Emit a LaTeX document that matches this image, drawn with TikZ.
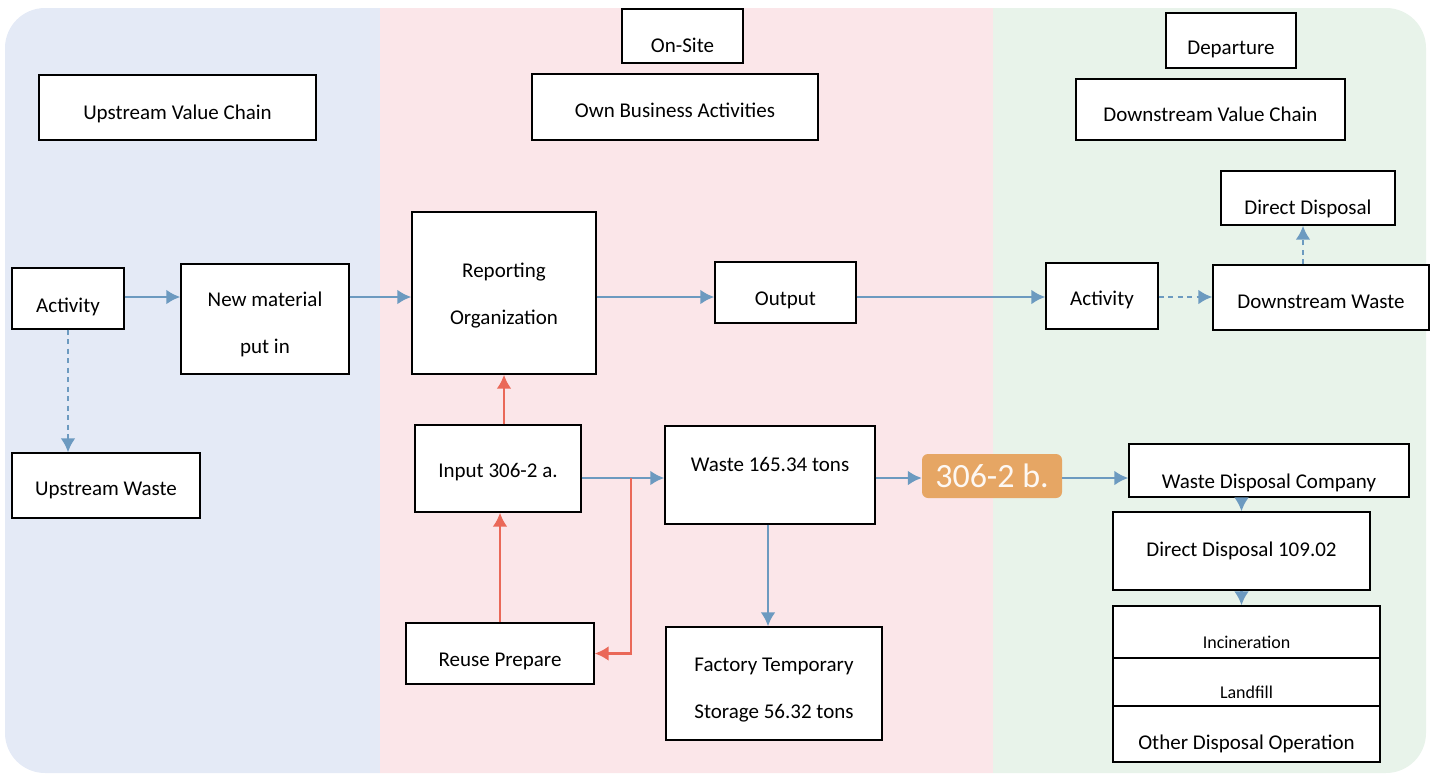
\documentclass[tikz,border=0pt]{standalone}
\usepackage{fontspec}
\setmainfont{Carlito}
\usepackage{tikz}
\usetikzlibrary{arrows.meta}
\usepackage{xcolor}
\definecolor{upblue}{RGB}{228,234,246}
\definecolor{sitepink}{RGB}{251,230,233}
\definecolor{downgreen}{RGB}{232,243,234}
\definecolor{flowblue}{RGB}{108,154,192}
\definecolor{backred}{RGB}{234,104,88}
\definecolor{tagorange}{RGB}{230,166,100}
\newcommand\shifttxt[2]{\raisebox{#1}[\height][\depth]{#2}}
\newcommand\twolines[2]{\begin{tabular}{@{}c@{}}#1\\[22pt]#2\end{tabular}}
\tikzset{
    box/.style={draw=black, line width=1.4pt, fill=white, inner sep=0pt,
        font=\fontsize{21}{25}\selectfont, align=center},
    smallbox/.style={box, font=\fontsize{18}{22}\selectfont},
    flow/.style={draw=flowblue, line width=2.8pt, -{Latex[length=14pt,width=15pt]}},
    dashflow/.style={flow, dash pattern=on 5pt off 4.5pt},
    back/.style={draw=backred, line width=2.8pt, -{Latex[length=14pt,width=15pt]}},
}
\begin{document}
\begin{tikzpicture}[x=1pt, y=-1pt]
    \useasboundingbox (0,0) rectangle (1438,774);
    \begin{scope}
        \clip[rounded corners=40pt] (5,8) rectangle (1426,773);
        \fill[upblue] (0,0) rectangle (380,774);
        \fill[sitepink] (380,0) rectangle (993,774);
        \fill[downgreen] (993,0) rectangle (1438,774);
    \end{scope}
    % titles
    \node[box, minimum width=121pt, minimum height=54pt] (onsite) at (682.5,36) {\shifttxt{-9pt}{On-Site}};
    \node[box, minimum width=286pt, minimum height=66pt] (own) at (675,107) {\shifttxt{-3pt}{Own Business Activities}};
    \node[box, minimum width=277pt, minimum height=65pt] (upvc) at (177.5,107.5) {\shifttxt{-6pt}{Upstream Value Chain}};
    \node[box, minimum width=130pt, minimum height=55pt] (depart) at (1231,40.5) {\shifttxt{-9pt}{Departure}};
    \node[box, minimum width=269pt, minimum height=61pt] (downvc) at (1210.5,109.5) {\shifttxt{-5pt}{Downstream Value Chain}};
    % upstream
    \node[box, minimum width=112pt, minimum height=61pt] (actL) at (68,298.5) {\shifttxt{-8pt}{Activity}};
    \node[box, minimum width=168pt, minimum height=110pt] (newmat) at (265,319) {\shifttxt{-6pt}{\twolines{New material}{put in}}};
    \node[box, minimum width=188pt, minimum height=65pt] (upwaste) at (106,485.5) {\shifttxt{-5pt}{Upstream Waste}};
    % on-site
    \node[box, minimum width=184pt, minimum height=162pt] (report) at (504,293) {\shifttxt{-3pt}{\twolines{Reporting}{Organization}}};
    \node[box, minimum width=141pt, minimum height=61pt] (output) at (785.5,292.5) {\shifttxt{-8pt}{Output}};
    \node[box, minimum width=166pt, minimum height=87pt] (input) at (498,468.5) {\shifttxt{-4pt}{Input 306-2 a.}};
    \node[box, minimum width=188pt, minimum height=61pt] (reuse) at (500,653.5) {\shifttxt{-8pt}{Reuse Prepare}};
    \node[box, minimum width=210pt, minimum height=98pt] (waste) at (770,475) {\shifttxt{11pt}{Waste 165.34 tons}};
    \node[box, minimum width=216pt, minimum height=113pt] (factory) at (774,683.5) {\shifttxt{-6pt}{\twolines{Factory Temporary}{Storage 56.32 tons}}};
    \node[fill=tagorange, rounded corners=6pt, minimum width=140pt, minimum height=44pt,
        text=white!92!tagorange, font=\fontsize{34}{40}\selectfont] (b306) at (992,476) {306-2 b.};
    % downstream
    \node[box, minimum width=112pt, minimum height=66pt] (actR) at (1102,296) {\shifttxt{-4pt}{Activity}};
    \node[box, minimum width=216pt, minimum height=65pt] (downwaste) at (1321,297.5) {\shifttxt{-4pt}{Downstream Waste}};
    \node[box, minimum width=174pt, minimum height=54pt] (dirdisp) at (1308,198) {\shifttxt{-11pt}{Direct Disposal}};
    \node[box, minimum width=280pt, minimum height=53pt] (wdc) at (1269,470.5) {\shifttxt{-12pt}{Waste Disposal Company}};
    \node[box, minimum width=257pt, minimum height=78pt] (dd109) at (1241.5,551) {Direct Disposal 109.02};
    \node[smallbox, minimum width=267pt, minimum height=54pt] (incin) at (1246.5,633) {\shifttxt{-9pt}{Incineration}};
    \node[smallbox, minimum width=267pt, minimum height=54pt] (landfill) at (1246.5,685) {\shifttxt{-7pt}{Landfill}};
    \node[box, minimum width=267pt, minimum height=56pt] (other) at (1246.5,734) {\shifttxt{-10pt}{Other Disposal Operation}};
    % connectors
    \coordinate (row) at (0,297);
    \coordinate (j) at (631,478);
    \draw[flow] (actL.east |- row) -- (newmat.west |- row);
    \draw[flow] (newmat.east |- row) -- (report.west |- row);
    \draw[flow] (report.east |- row) -- (output.west |- row);
    \draw[flow] (output.east |- row) -- (actR.west |- row);
    \draw[dashflow] (actR.east |- row) -- (downwaste.west |- row);
    \draw[dashflow] (downwaste.north -| 1303,0) -- (dirdisp.south -| 1303,0);
    \draw[dashflow] (actL.south) -- (actL.south |- upwaste.north);
    \draw[back] (input.north -| report) -- (report.south);
    \draw[back] (reuse.north) -- (reuse.north |- input.south);
    \draw[flow] (input.east |- j) -- (waste.west |- j);
    \draw[back] (j) |- (reuse.east);
    \draw[flow] (waste.east |- j) -- (b306.west |- j);
    \draw[flow] (b306.east |- j) -- (wdc.west |- j);
    \draw[flow] (waste.south -| 768,0) -- (factory.north -| 768,0);
    \draw[flow] (wdc.south -| dd109) -- (dd109.north);
    \draw[flow] (dd109.south) -- (dd109.south |- incin.north);
\end{tikzpicture}
\end{document}
